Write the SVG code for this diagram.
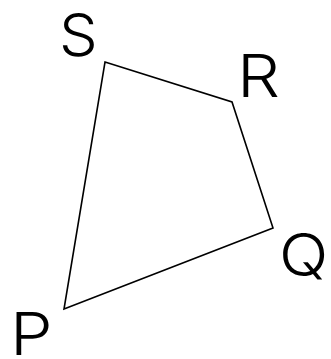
<svg xmlns="http://www.w3.org/2000/svg" width="331" height="359" viewBox="0 0 331 359">
<style>
.lbl{font-family:Inter,"Liberation Sans",sans-serif;font-weight:300;font-size:59px;fill:#000}
.edge{fill:none;stroke:#000;stroke-width:1.6;stroke-linejoin:miter}
</style>
<rect width="331" height="359" fill="#fff"/>
<g id="connectors">
<polygon class="edge" points="105,62 232,102 273,228 64,309"/>
</g>
<g id="node-S"><text class="lbl" transform="translate(59,56) scale(1.04,1)">S</text></g>
<g id="node-R"><text class="lbl" transform="translate(237,97) scale(1.15,1)">R</text></g>
<g id="node-Q"><text class="lbl" transform="translate(279,276) scale(1.1,1)">Q</text></g>
<g id="node-P"><text class="lbl" transform="translate(10,355) scale(1.15,1)">P</text></g>
</svg>
